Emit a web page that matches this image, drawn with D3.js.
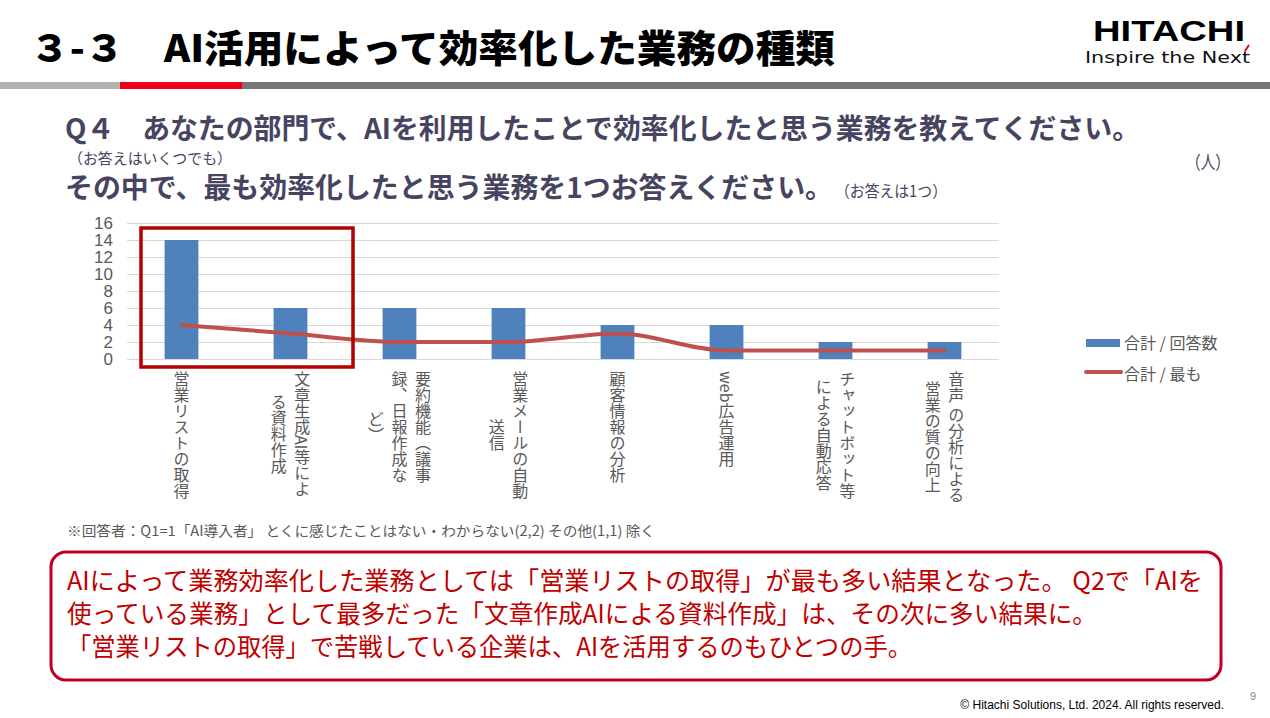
<!DOCTYPE html>
<html>
<head>
<meta charset="utf-8">
<script src="https://cdn.jsdelivr.net/npm/d3@7"></script>
<style>
  body { margin: 0; background: #fff; }
  svg text { font-family: "Noto Sans CJK JP", "Noto Sans", sans-serif; }
</style>
</head>
<body>
<main></main>
<script>
// chart data
const categories = [
    ["営業リストの取得"],
    ["文章生成AI等によ", "る資料作成"],
    ["要約機能（議事", "録、日報作成な", "ど）"],
    ["営業メールの自動", "送信"],
    ["顧客情報の分析"],
    ["web広告運用"],
    ["チャットボット等", "による自動応答"],
    ["音声 の分析による", "営業の質の向上"]
];
const answers = [14, 6, 6, 6, 4, 4, 2, 2];   // 合計 / 回答数
const most = [4, 3, 2, 2, 3, 1, 1, 1];       // 合計 / 最も
const yTicks = [0, 2, 4, 6, 8, 10, 12, 14, 16];
const seriesNames = ["合計 / 回答数", "合計 / 最も"];

const svgSize = { width: 1270, height: 718 };
const plot = { left: 127, right: 999, top: 223, bottom: 359 };

const svg = d3.select("main")
    .append("svg")
    .attr("width", svgSize.width)
    .attr("height", svgSize.height);

// header
const createHeader = () => {
    svg.append("text")
        .attr("x", 30).attr("y", 62)
        .attr("font-size", 38).attr("font-weight", 900)
        .attr("fill", "#000")
        .attr("textLength", 805).attr("lengthAdjust", "spacingAndGlyphs")
        .text("３-３　AI活用によって効率化した業務の種類");

    svg.append("text")
        .attr("x", 1093).attr("y", 41)
        .style("font-family", "Liberation Sans, Arial, sans-serif")
        .attr("font-size", 29).attr("font-weight", 700)
        .attr("textLength", 152).attr("lengthAdjust", "spacingAndGlyphs")
        .text("HITACHI");
    svg.append("text")
        .attr("x", 1085).attr("y", 63)
        .style("font-family", "DejaVu Sans, sans-serif")
        .attr("font-size", 16)
        .attr("fill", "#111")
        .attr("textLength", 165).attr("lengthAdjust", "spacingAndGlyphs")
        .text("Inspire the Next");
    svg.append("line")
        .attr("x1", 1245).attr("y1", 51).attr("x2", 1249).attr("y2", 45)
        .attr("stroke", "#e60012").attr("stroke-width", 2);

    const bars = [[0, 120, "#b2b2b2"], [120, 242, "#f20018"], [242, 1270, "#767676"]];
    svg.selectAll(".hbar")
        .data(bars)
        .enter()
        .append("rect")
        .attr("x", d => d[0]).attr("y", 82)
        .attr("width", d => d[1] - d[0]).attr("height", 7)
        .attr("fill", d => d[2]);
};

const createQuestion = () => {
    const qColor = "#47445f";
    svg.append("text")
        .attr("x", 65).attr("y", 139)
        .attr("font-size", 28).attr("font-weight", 700).attr("fill", qColor)
        .attr("textLength", 1075).attr("lengthAdjust", "spacingAndGlyphs")
        .text("Q４　あなたの部門で、AIを利用したことで効率化したと思う業務を教えてください。");
    svg.append("text")
        .attr("x", 68).attr("y", 164)
        .attr("font-size", 15).attr("fill", qColor)
        .attr("textLength", 164).attr("lengthAdjust", "spacingAndGlyphs")
        .text("（お答えはいくつでも）");
    svg.append("text")
        .attr("x", 1186).attr("y", 169)
        .attr("font-size", 18).attr("fill", qColor)
        .attr("textLength", 44).attr("lengthAdjust", "spacingAndGlyphs")
        .text("（人）");
    svg.append("text")
        .attr("x", 65).attr("y", 198)
        .attr("font-size", 28).attr("font-weight", 700).attr("fill", qColor)
        .attr("textLength", 768).attr("lengthAdjust", "spacingAndGlyphs")
        .text("その中で、最も効率化したと思う業務を1つお答えください。");
    svg.append("text")
        .attr("x", 835).attr("y", 197)
        .attr("font-size", 16).attr("fill", qColor)
        .attr("textLength", 112).attr("lengthAdjust", "spacingAndGlyphs")
        .text("（お答えは1つ）");
};

const defineScales = () => {
    const xScale = d3.scaleBand()
        .domain(d3.range(categories.length))
        .range([plot.left, plot.right])
        .paddingInner(0.69)
        .paddingOuter(0.345);
    const yScale = d3.scaleLinear()
        .domain([0, 16])
        .range([plot.bottom, plot.top]);
    return { xScale, yScale };
};

const createChart = (scales) => {
    const { xScale, yScale } = scales;

    const yAxis = svg.append("g")
        .attr("id", "y-axis")
        .attr("transform", `translate(${plot.left},0)`)
        .call(d3.axisLeft(yScale).tickValues(yTicks)
            .tickSize(-(plot.right - plot.left)).tickPadding(14));
    yAxis.select(".domain").remove();
    yAxis.selectAll(".tick line").attr("stroke", "#d9d9d9").attr("stroke-width", 1);
    yAxis.selectAll(".tick text")
        .attr("fill", "#595959")
        .attr("font-size", 17)
        .style("font-family", "Liberation Sans, Arial, sans-serif");

    svg.selectAll(".bar")
        .data(answers)
        .enter()
        .append("rect")
        .attr("class", "bar")
        .attr("x", (d, i) => xScale(i))
        .attr("y", d => yScale(d))
        .attr("width", xScale.bandwidth())
        .attr("height", d => yScale(0) - yScale(d))
        .attr("fill", "#4f81bd");

    const line = d3.line()
        .x((d, i) => xScale(i) + xScale.bandwidth() / 2)
        .y(d => yScale(d))
        .curve(d3.curveMonotoneX);
    svg.append("path")
        .datum(most)
        .attr("d", line)
        .attr("fill", "none")
        .attr("stroke", "#c0504d")
        .attr("stroke-width", 4)
        .attr("stroke-linecap", "round");

    // vertical category labels: columns right to left, each column centred on the longest one
    const lineGap = 23.5;
    const labelTop = 371;
    categories.forEach((lines, i) => {
        const cx = xScale(i) + xScale.bandwidth() / 2;
        const g = svg.append("g").attr("class", "cat-label");
        const texts = lines.map((txt, j) => g.append("text")
            .attr("x", cx + (lines.length - 1) / 2 * lineGap - j * lineGap)
            .style("writing-mode", "vertical-rl")
            .attr("text-anchor", "middle")
            .attr("font-size", 16)
            .attr("fill", "#595959")
            .text(txt));
        const longest = d3.max(texts, t => t.node().getComputedTextLength());
        texts.forEach(t => t.attr("y", labelTop + longest / 2));
    });

    // highlight box
    svg.append("rect")
        .attr("x", 141).attr("y", 228)
        .attr("width", 212).attr("height", 139)
        .attr("fill", "none")
        .attr("stroke", "#b30000")
        .attr("stroke-width", 3.5);
};

const createLegend = () => {
    svg.append("rect")
        .attr("x", 1086).attr("y", 339).attr("width", 34).attr("height", 8)
        .attr("fill", "#4f81bd");
    svg.append("line")
        .attr("x1", 1086).attr("x2", 1121).attr("y1", 372).attr("y2", 372)
        .attr("stroke", "#c0504d").attr("stroke-width", 4).attr("stroke-linecap", "round");
    svg.selectAll(".legend-text")
        .data(seriesNames)
        .enter()
        .append("text")
        .attr("x", 1124)
        .attr("y", (d, i) => 349 + i * 31)
        .attr("font-size", 16)
        .attr("fill", "#595959")
        .text(d => d);
};

const createNotes = () => {
    svg.append("text")
        .attr("x", 67).attr("y", 536)
        .attr("font-size", 14).attr("fill", "#595959")
        .attr("textLength", 588).attr("lengthAdjust", "spacingAndGlyphs")
        .text("※回答者：Q1=1「AI導入者」 とくに感じたことはない・わからない(2,2)  その他(1,1)  除く");

    svg.append("rect")
        .attr("x", 51).attr("y", 552)
        .attr("width", 1170).attr("height", 128)
        .attr("rx", 15).attr("ry", 15)
        .attr("fill", "#fff")
        .attr("stroke", "#c00020")
        .attr("stroke-width", 3);

    const summary = [
        ["AIによって業務効率化した業務としては「営業リストの取得」が最も多い結果となった。 Q2で「AIを", 1136],
        ["使っている業務」として最多だった「文章作成AIによる資料作成」は、その次に多い結果に。", 1030],
        ["「営業リストの取得」で苦戦している企業は、AIを活用するのもひとつの手。", 845]
    ];
    svg.selectAll(".summary")
        .data(summary)
        .enter()
        .append("text")
        .attr("x", 67)
        .attr("y", (d, i) => 590 + i * 33)
        .attr("font-size", 25)
        .attr("fill", "#c00000")
        .attr("textLength", d => d[1])
        .attr("lengthAdjust", "spacingAndGlyphs")
        .text(d => d[0]);

    svg.append("text")
        .attr("x", 1224).attr("y", 709)
        .attr("text-anchor", "end")
        .style("font-family", "Liberation Sans, Arial, sans-serif")
        .attr("font-size", 12).attr("fill", "#000")
        .text("© Hitachi Solutions, Ltd. 2024. All rights reserved.");
    svg.append("text")
        .attr("x", 1250).attr("y", 700)
        .style("font-family", "Liberation Sans, Arial, sans-serif")
        .attr("font-size", 11).attr("fill", "#888")
        .text("9");
};

const driver = () => {
    createHeader();
    createQuestion();
    const scales = defineScales();
    createChart(scales);
    createLegend();
    createNotes();
};

driver();
</script>
</body>
</html>
